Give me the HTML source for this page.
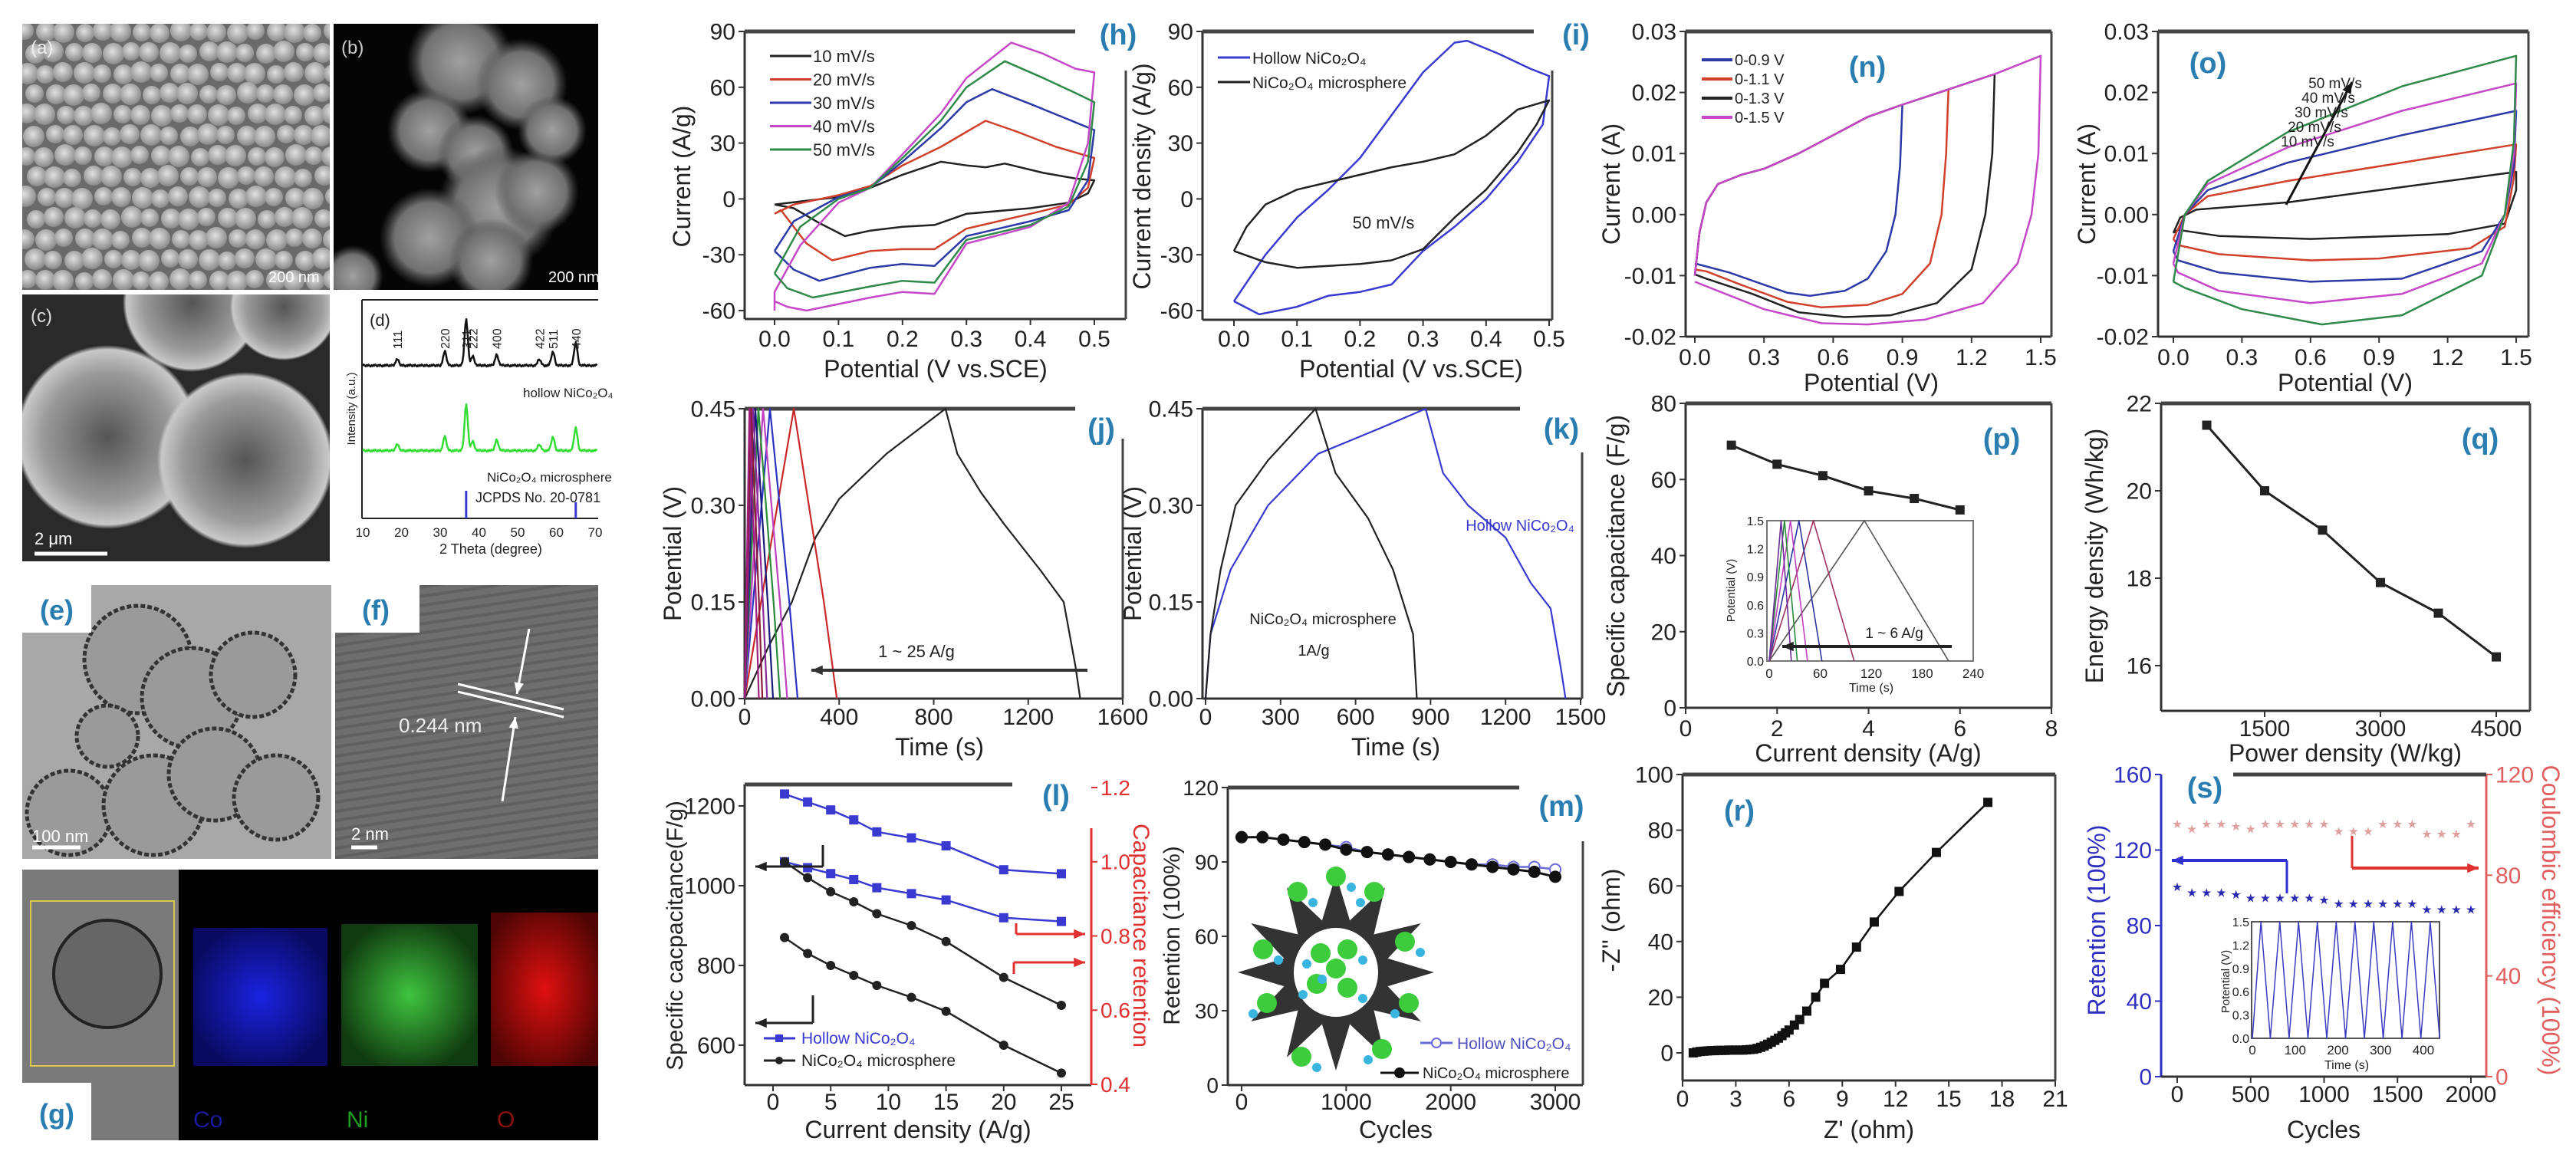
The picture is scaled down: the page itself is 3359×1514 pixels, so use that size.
<!DOCTYPE html>
<html><head><meta charset="utf-8"><title>NiCo2O4 figure</title>
<style>html,body{margin:0;padding:0;background:#fff}svg{display:block}</style></head>
<body>
<svg id="fig" xmlns="http://www.w3.org/2000/svg" width="3359" height="1514" viewBox="0 0 3359 1514">
<defs>
<radialGradient id="ball" cx="45%" cy="40%" r="60%"><stop offset="0" stop-color="#e0e0e0"/><stop offset="1" stop-color="#8a8a8a"/></radialGradient>
<radialGradient id="fuzz" cx="50%" cy="50%" r="50%"><stop offset="0" stop-color="#555"/><stop offset="0.7" stop-color="#9a9a9a"/><stop offset="0.95" stop-color="#c8c8c8"/><stop offset="1" stop-color="#c8c8c8" stop-opacity="0"/></radialGradient>
<radialGradient id="blob" cx="50%" cy="50%" r="50%"><stop offset="0" stop-color="#a0a0a0"/><stop offset="0.7" stop-color="#707070"/><stop offset="1" stop-color="#505050" stop-opacity="0"/></radialGradient>
<radialGradient id="coG" cx="50%" cy="50%" r="55%"><stop offset="0" stop-color="#1a22e0"/><stop offset="1" stop-color="#0a0a60"/></radialGradient>
<radialGradient id="niG" cx="50%" cy="50%" r="55%"><stop offset="0" stop-color="#3fc43f"/><stop offset="1" stop-color="#103a10"/></radialGradient>
<radialGradient id="oG" cx="50%" cy="50%" r="60%"><stop offset="0" stop-color="#e01010"/><stop offset="1" stop-color="#500505"/></radialGradient>
<clipPath id="clipA"><rect x="29" y="31" width="401" height="347"/></clipPath>
<clipPath id="clipB"><rect x="435" y="31" width="345" height="347"/></clipPath>
<clipPath id="clipC"><rect x="29" y="384" width="401" height="348"/></clipPath>
<clipPath id="clipE"><rect x="29" y="763" width="403" height="357"/></clipPath>
<clipPath id="clipF"><rect x="437" y="763" width="343" height="357"/></clipPath>
<clipPath id="clipG"><rect x="29" y="1134" width="751" height="353"/></clipPath>
</defs>
</svg>
<script>
// ---------------- data ----------------
const hCurve10=[[0,-3],[0.05,-1],[0.1,1],[0.15,6],[0.2,13],[0.26,20],[0.3,18],[0.33,17],[0.36,19],[0.42,14],[0.47,11],[0.5,10],[0.49,3],[0.46,-2],[0.4,-5],[0.3,-8],[0.25,-14],[0.2,-15],[0.15,-17],[0.11,-20],[0.07,-13],[0.03,-5],[0,-3]];
const hCurve20=[[0,-8],[0.03,-3],[0.1,2],[0.15,7],[0.2,18],[0.26,28],[0.3,36],[0.33,42],[0.38,36],[0.44,28],[0.5,22],[0.49,6],[0.46,-3],[0.4,-8],[0.3,-16],[0.25,-27],[0.2,-27],[0.15,-28],[0.09,-33],[0.05,-24],[0.01,-6],[0,-8]];
const hCurve30=[[0,-28],[0.03,-12],[0.1,1],[0.15,6],[0.2,20],[0.26,38],[0.3,52],[0.34,59],[0.4,51],[0.45,44],[0.5,37],[0.49,10],[0.46,-6],[0.4,-12],[0.3,-20],[0.25,-36],[0.2,-35],[0.15,-37],[0.07,-44],[0.03,-38],[0.0,-28]];
const hCurve40=[[0,-60],[0,-50],[0.04,-25],[0.1,-2],[0.15,6],[0.2,24],[0.26,46],[0.3,65],[0.37,84],[0.42,78],[0.47,70],[0.5,68],[0.49,30],[0.46,-2],[0.4,-15],[0.3,-24],[0.25,-51],[0.2,-50],[0.15,-53],[0.05,-60],[0.02,-58],[0,-55]];
const hCurve50=[[0,-40],[0.04,-15],[0.1,0],[0.15,6],[0.2,22],[0.26,42],[0.3,60],[0.36,74],[0.42,65],[0.47,57],[0.5,52],[0.49,20],[0.46,-4],[0.4,-14],[0.3,-22],[0.25,-45],[0.2,-44],[0.15,-47],[0.06,-53],[0.02,-48],[0,-40]];
const hRates=["10 mV/s","20 mV/s","30 mV/s","40 mV/s","50 mV/s"];
const iHollow=[[0,-55],[0.05,-30],[0.1,-10],[0.15,5],[0.2,22],[0.25,45],[0.3,68],[0.35,84],[0.37,85],[0.42,78],[0.47,70],[0.5,66],[0.49,40],[0.45,20],[0.4,0],[0.35,-15],[0.3,-28],[0.25,-46],[0.2,-50],[0.15,-52],[0.1,-58],[0.04,-62],[0,-55]];
const iMicro=[[0,-28],[0.02,-15],[0.05,-3],[0.1,5],[0.15,9],[0.2,13],[0.25,17],[0.3,20],[0.35,24],[0.4,34],[0.45,48],[0.5,53],[0.48,40],[0.45,25],[0.4,5],[0.35,-10],[0.3,-27],[0.25,-33],[0.2,-35],[0.15,-36],[0.1,-37],[0.05,-34],[0,-28]];
const jSlow=[[0,0],[100,0.08],[200,0.15],[300,0.25],[400,0.31],[600,0.38],[850,0.45],[900,0.38],[1000,0.32],[1100,0.27],[1250,0.2],[1350,0.15],[1400,0.05],[1420,0]];
const jPeakTimes=[208,107,78,58,45,35,27,20];
const jEndTimes=[390,224,180,150,120,95,75,60];
const kHollow=[[0,0],[20,0.1],[100,0.2],[250,0.3],[450,0.38],[700,0.42],[880,0.45],[950,0.35],[1050,0.3],[1200,0.25],[1300,0.18],[1380,0.14],[1420,0.05],[1440,0]];
const kMicro=[[0,0],[20,0.1],[60,0.2],[120,0.3],[250,0.37],[440,0.45],[520,0.35],[650,0.28],[750,0.2],[830,0.1],[845,0]];
const lCurrent=[1,3,5,7,9,12,15,20,25];
const lHollowCap=[1230,1210,1190,1165,1135,1120,1100,1040,1030];
const lHollowRet=[1.0,0.984,0.968,0.952,0.93,0.914,0.897,0.849,0.839];
const lMicroCap=[870,830,800,775,750,720,685,600,530];
const lMicroRet=[1.0,0.957,0.919,0.892,0.86,0.828,0.785,0.688,0.613];
const mCycles=[0,200,400,600,800,1000,1200,1400,1600,1800,2000,2200,2400,2600,2800,3000];
const mHollow=[100,100,99,98,97,96,94,93,92,91,90,89,89,88,88,87];
const mMicro=[100,100,99,98,97,95,94,93,92,91,90,89,88,87,86,84];
const nUpper=[[0,-0.01],[0.02,-0.003],[0.05,0.002],[0.1,0.005],[0.2,0.0065],[0.3,0.0075],[0.45,0.01],[0.6,0.013],[0.75,0.016],[0.9,0.018],[1.1,0.0205],[1.3,0.023],[1.5,0.026]];
const nLimits=[0.9,1.1,1.3,1.5];
const nReturn09=[[0.89,0.008],[0.87,0.0],[0.83,-0.006],[0.75,-0.0105],[0.65,-0.0125],[0.5,-0.0133],[0.4,-0.0128],[0.3,-0.0115],[0.15,-0.0095],[0.05,-0.0085],[0,-0.008]];
const nReturn11=[[1.09,0.01],[1.07,0.0],[1.02,-0.008],[0.9,-0.013],[0.75,-0.0148],[0.55,-0.0152],[0.4,-0.0143],[0.2,-0.0115],[0.05,-0.0093],[0,-0.009]];
const nReturn13=[[1.29,0.01],[1.26,0.0],[1.2,-0.009],[1.05,-0.0145],[0.85,-0.0165],[0.65,-0.0168],[0.45,-0.016],[0.25,-0.013],[0.05,-0.0105],[0,-0.0098]];
const nReturn15=[[1.49,0.01],[1.46,0.0],[1.4,-0.008],[1.25,-0.0145],[1.0,-0.0172],[0.75,-0.018],[0.55,-0.0178],[0.3,-0.0155],[0.1,-0.0125],[0,-0.011]];
const nLabels=["0-0.9 V","0-1.1 V","0-1.3 V","0-1.5 V"];
const o10=[[0,-0.003],[0.03,-0.0005],[0.1,0.0008],[0.5,0.002],[1.0,0.0045],[1.5,0.007],[1.5,0.004],[1.45,-0.0015],[1.2,-0.0032],[0.6,-0.004],[0.2,-0.0035],[0.02,-0.0025],[0,-0.003]];
const o20=[[0,-0.004],[0.05,0],[0.15,0.003],[0.5,0.0055],[1.0,0.0085],[1.5,0.0115],[1.49,0.006],[1.45,-0.002],[1.3,-0.0055],[0.9,-0.0072],[0.6,-0.0075],[0.2,-0.0065],[0.02,-0.005],[0,-0.004]];
const o30=[[0,-0.006],[0.05,0],[0.15,0.004],[0.5,0.0085],[1.0,0.013],[1.5,0.017],[1.49,0.008],[1.45,0.0],[1.35,-0.006],[1.0,-0.0105],[0.6,-0.011],[0.2,-0.0095],[0.02,-0.0075],[0,-0.006]];
const o40=[[0,-0.008],[0.05,0],[0.15,0.005],[0.5,0.011],[1.0,0.017],[1.5,0.0215],[1.49,0.01],[1.45,0.0],[1.35,-0.008],[1.0,-0.013],[0.6,-0.0145],[0.2,-0.0125],[0.02,-0.0095],[0,-0.008]];
const o50=[[0,-0.011],[0.05,0.0],[0.15,0.0055],[0.5,0.0135],[1.0,0.021],[1.5,0.026],[1.49,0.012],[1.45,0.0],[1.35,-0.01],[1.0,-0.0165],[0.65,-0.018],[0.3,-0.0155],[0.05,-0.012],[0,-0.011]];
const oLabels=["50 mV/s","40 mV/s","30 mV/s","20 mV/s","10 mV/s"];
const pCurrent=[1,2,3,4,5,6];
const pCap=[69,64,61,57,55,52];
const pInsetPeak=[112,52,35,25,18,14];
const pInsetEnd=[211,100,62,45,33,26];
const qPower=[750,1500,2250,3000,3750,4500];
const qEnergy=[21.5,20,19.1,17.9,17.2,16.2];
const rZre=[0.6,0.8,1.0,1.2,1.4,1.6,1.8,2.0,2.2,2.4,2.6,2.8,3.0,3.2,3.4,3.6,3.8,4.0,4.2,4.4,4.6,4.8,5.0,5.2,5.4,5.6,5.8,6.0,6.3,6.6,7.0,7.5,8.0,8.9,9.8,10.8,12.2,14.3,17.2];
const rZim=[0,0.3,0.5,0.6,0.7,0.8,0.8,0.9,0.9,0.9,1.0,1.0,1.0,1.0,1.0,1.1,1.2,1.3,1.6,2.0,2.5,3.1,3.8,4.5,5.3,6.2,7.2,8.2,10,12,15,20,25,30,38,47,58,72,90];
const sCycles=[0,100,200,300,400,500,600,700,800,900,1000,1100,1200,1300,1400,1500,1600,1700,1800,1900,2000];
const sRetention=[100,97,97,97,96,94,94,94,94,94,93,91,91,91,91,91,91,88,88,88,88];
const sCoulombic=[100,98,100,100,99,98,100,100,100,100,100,97,97,97,100,100,100,96,96,96,100];
const sInsetPeaks=[20,64,108,152,196,240,284,328,372,416];
const sInsetTroughs=[0,42,86,130,174,218,262,306,350,394,438];

// ---------------- helpers ----------------
const NS='http://www.w3.org/2000/svg';
const svg=document.getElementById('fig');
const FONT='Liberation Sans, Arial, sans-serif';
const TEAL='#2a7db0';
function mk(tag,attrs,parent){const e=document.createElementNS(NS,tag);for(const k in attrs)e.setAttribute(k,attrs[k]);(parent||svg).appendChild(e);return e;}
function lin(v0,p0,v1,p1){return v=>p0+(v-v0)*(p1-p0)/(v1-v0);}
function group(name,clip){const g=mk('g',clip?{'clip-path':'url(#'+clip+')'}:{});return g;}
function txt(g,x,y,s,size,opts,name){const e=mk('text',Object.assign({x:x,y:y,'font-size':size,'font-family':FONT,fill:'#222'},opts||{}),g);e.textContent=s;return e;}
function path(g,pts,X,Y,color,w,name){const d=pts.map((p,i)=>(i?'L':'M')+X(p[0]).toFixed(1)+' '+Y(p[1]).toFixed(1)).join('');const e=mk('path',{d:d,fill:'none',stroke:color,'stroke-width':w||2.5,'stroke-linejoin':'round'},g);return e;}
function ln(g,x1,y1,x2,y2,color,w,name){const e=mk('line',{x1:x1,y1:y1,x2:x2,y2:y2,stroke:color,'stroke-width':w},g);return e;}
function marker(g,x,y,shape,color,size,name){let e;if(shape==='sq'){e=mk('rect',{x:x-size,y:y-size,width:2*size,height:2*size,fill:color},g);}else if(shape==='open'){e=mk('circle',{cx:x,cy:y,r:size,fill:'#fff',stroke:color,'stroke-width':2},g);}else if(shape==='star'){e=mk('text',{x:x,y:y+size*0.7,'font-size':size*2.6,'text-anchor':'middle',fill:color,'font-family':'DejaVu Sans, sans-serif'},g);e.textContent='★';}else{e=mk('circle',{cx:x,cy:y,r:size,fill:color},g);}return e;}
function frame(g,L,R,T,B,topEnd,rightStart,color){ln(g,L,T,L,B,color||'#333',3,'y-axis-line');ln(g,L,B,R,B,'#333',3,'x-axis-line');ln(g,L,T,topEnd,T,'#444',5,'top-frame-line');ln(g,R,rightStart,R,B,'#444',3,'right-frame-line');}
function xTicks(g,vals,X,B,labelY,size,fmt){vals.forEach(v=>{const x=X(v);ln(g,x,B,x,B+8,'#333',2,'x-tick');txt(g,x,labelY,fmt?fmt(v):String(v),size,{'text-anchor':'middle'},'x-tick-label');});}
function yTicks(g,vals,Y,L,size,fmt,color,side){vals.forEach(v=>{const y=Y(v);const dir=side==='right'?1:-1;ln(g,L,y,L+dir*8,y,color||'#333',2,'y-tick');txt(g,L+dir*12,y+size*0.35,fmt?fmt(v):String(v),size,{'text-anchor':side==='right'?'start':'end',fill:color||'#222'},'y-tick-label');});}
function yTitle(g,x,y,s,size,color){return txt(g,x,y,s,size,{'text-anchor':'middle',transform:'rotate(-90 '+x+' '+y+')',fill:color||'#222'},'y-axis-title');}
function yTitleR(g,x,y,s,size,color){return txt(g,x,y,s,size,{'text-anchor':'middle',transform:'rotate(90 '+x+' '+y+')',fill:color||'#222'},'y2-axis-title');}
function letter(g,x,y,s){return txt(g,x,y,s,38,{'text-anchor':'middle','font-weight':'bold',fill:TEAL},'panel-label');}
function arrow(g,x1,y1,x2,y2,color,w,name){ln(g,x1,y1,x2,y2,color,w,name);const a=Math.atan2(y2-y1,x2-x1),s=16;const p=[[x2,y2],[x2-s*Math.cos(a-0.4),y2-s*Math.sin(a-0.4)],[x2-s*Math.cos(a+0.4),y2-s*Math.sin(a+0.4)]];const e=mk('polygon',{points:p.map(q=>q.join(',')).join(' '),fill:color},g);}
const f1=v=>v.toFixed(1),f2=v=>v.toFixed(2);
const sub='NiCo\u2082O\u2084';

// ---------------- left image panels ----------------
(function(){
 let g=group('sem-image-a','clipA');
 mk('rect',{x:29,y:31,width:401,height:347,fill:'#6a6a6a'},g);
 for(let r=0;r<13;r++)for(let c=0;c<17;c++){const x=34+c*25+(r%2)*12+((r*7+c*3)%5)-2,y=40+r*27+((r*3+c*5)%4);mk('circle',{cx:x,cy:y,r:12+((r+c)%3),fill:'url(#ball)'},g);}
 txt(g,40,70,'(a)',24,{fill:'#eee'},'panel-label-a');
 txt(g,350,368,'200 nm',20,{fill:'#fff'},'scale-bar-label');
 g=group('sem-image-b','clipB');
 mk('rect',{x:435,y:31,width:345,height:347,fill:'#050505'},g);
 [[600,80,70],[680,110,60],[560,170,55],[620,200,50],[650,270,80],[700,250,55],[560,310,65],[640,340,55],[460,360,40],[720,170,45]].forEach(b=>mk('circle',{cx:b[0],cy:b[1],r:b[2],fill:'url(#blob)'},g));
 txt(g,445,70,'(b)',24,{fill:'#ccc'},'panel-label-b');
 txt(g,715,368,'200 nm',20,{fill:'#fff'},'scale-bar-label');
 g=group('sem-image-c','clipC');
 mk('rect',{x:29,y:384,width:401,height:348,fill:'#2a2a2a'},g);
 [[250,395,90],[370,400,70],[140,570,120],[320,600,115]].forEach(b=>mk('circle',{cx:b[0],cy:b[1],r:b[2],fill:'url(#fuzz)'},g));
 txt(g,40,420,'(c)',24,{fill:'#ddd'},'panel-label-c');
 ln(g,45,722,140,722,'#fff',5,'scale-bar');
 txt(g,45,710,'2 μm',22,{fill:'#fff'},'scale-bar-label');
 g=group('xrd-panel-d');
 ln(g,472,391,472,676,'#222',2,'y-axis-line');ln(g,472,676,780,676,'#222',2,'x-axis-line');ln(g,472,391,780,391,'#222',2,'top-line');
 const XX=lin(10,473,70,776);
 const pk=[[18.9,8],[31.2,18],[36.7,60],[38.4,12],[44.6,14],[55.6,8],[59.1,18],[65,30]];
 function xrd(base,scale,color,name){const pts=[];for(let t=10;t<=70.5;t+=0.25){let y=0;pk.forEach(p=>{y+=p[1]*Math.exp(-Math.pow((t-p[0])/0.6,2));});pts.push([t,base-y*scale-((t*7)%3)]);}path(g,pts,XX,v=>v,color,2.5,name);}
 xrd(478,1,'#111','xrd-hollow-pattern');xrd(589,1,'#33dd33','xrd-microsphere-pattern');
 txt(g,482,425,'(d)',22,{},'panel-label-d');
 [['111',18.9],['220',31.2],['311',36.7],['222',38.4],['400',44.6],['422',55.6],['511',59.1],['440',65]].forEach(p=>txt(g,XX(p[1])+6,455,p[0],16,{transform:'rotate(-90 '+(XX(p[1])+6)+' 455)'},'peak-index'));
 txt(g,682,518,'hollow  '+sub,17,{},'xrd-label-hollow');
 txt(g,635,628,sub+' microsphere',17,{},'xrd-label-micro');
 txt(g,620,655,'JCPDS No. 20-0781',18,{},'jcpds-label');
 ln(g,XX(36.7),640,XX(36.7),676,'#3a3acc',3,'jcpds-line');ln(g,XX(65),655,XX(65),676,'#3a3acc',3,'jcpds-line');
 [10,20,30,40,50,60,70].forEach(v=>txt(g,XX(v),700,String(v),17,{'text-anchor':'middle'},'x-tick-label'));
 txt(g,640,722,'2 Theta (degree)',18,{'text-anchor':'middle'},'x-axis-title');
 yTitle(g,463,533,'Intensity (a.u.)',15);
 g=group('tem-image-e','clipE');
 mk('rect',{x:29,y:763,width:403,height:357,fill:'#a8a8a8'},g);
 [[180,860,70],[250,910,65],[330,880,55],[90,1060,55],[200,1050,65],[280,1010,60],[360,1040,55],[140,960,40]].forEach(b=>mk('circle',{cx:b[0],cy:b[1],r:b[2],fill:'#9a9a9a',stroke:'#333','stroke-width':5,'stroke-dasharray':'6 3'},g));
 mk('rect',{x:29,y:763,width:90,height:62,fill:'#fff'},g);
 txt(g,74,808,'(e)',36,{'text-anchor':'middle','font-weight':'bold',fill:TEAL},'panel-label-e');
 ln(g,42,1105,105,1105,'#fff',5,'scale-bar');txt(g,42,1098,'100 nm',22,{fill:'#fff'},'scale-bar-label');
 g=group('hrtem-image-f','clipF');
 mk('rect',{x:437,y:763,width:343,height:357,fill:'#6e6e6e'},g);
 for(let i=0;i<34;i++)ln(g,437,770+i*12,780,720+i*12,'#606060',4,'lattice-fringe');
 mk('rect',{x:437,y:763,width:110,height:62,fill:'#fff'},g);
 txt(g,490,808,'(f)',36,{'text-anchor':'middle','font-weight':'bold',fill:TEAL},'panel-label-f');
 ln(g,597,892,735,925,'#fff',3,'fringe-marker');ln(g,597,902,735,935,'#fff',3,'fringe-marker');
 arrow(g,690,820,674,905,'#fff',3,'arrow-down');arrow(g,655,1045,672,935,'#fff',3,'arrow-up');
 txt(g,520,955,'0.244 nm',26,{fill:'#eee'},'d-spacing-label');
 ln(g,458,1105,492,1105,'#fff',5,'scale-bar');txt(g,458,1095,'2 nm',22,{fill:'#fff'},'scale-bar-label');
 g=group('eds-mapping-g','clipG');
 mk('rect',{x:29,y:1134,width:204,height:353,fill:'#7a7a7a'},g);
 mk('circle',{cx:140,cy:1270,r:70,fill:'#666',stroke:'#222','stroke-width':4},g);
 mk('rect',{x:40,y:1175,width:187,height:215,fill:'none',stroke:'#d8c84a','stroke-width':2},g);
 mk('rect',{x:233,y:1134,width:547,height:353,fill:'#000'},g);
 mk('rect',{x:252,y:1210,width:175,height:180,fill:'url(#coG)'},g);
 mk('rect',{x:445,y:1205,width:178,height:185,fill:'url(#niG)'},g);
 mk('rect',{x:640,y:1190,width:140,height:200,fill:'url(#oG)'},g);
 mk('rect',{x:29,y:1412,width:90,height:75,fill:'#fff'},g);
 txt(g,74,1465,'(g)',36,{'text-anchor':'middle','font-weight':'bold',fill:TEAL},'panel-label-g');
 txt(g,252,1470,'Co',30,{fill:'#1a1aa0'},'map-label-co');
 txt(g,452,1470,'Ni',30,{fill:'#20a020'},'map-label-ni');
 txt(g,648,1470,'O',30,{fill:'#8a1010'},'map-label-o');
})();

// ---------------- panel h ----------------
(function(){
 const g=group('chart-h-cv-scan-rates');
 const X=lin(0,1010,0.5,1427),Y=lin(90,41,-60,405);
 frame(g,971,1468,41,416,1402,92);
 xTicks(g,[0,0.1,0.2,0.3,0.4,0.5],X,416,452,30,f1);
 yTicks(g,[90,60,30,0,-30,-60],Y,971,30);
 txt(g,1220,492,'Potential (V vs.SCE)',32,{'text-anchor':'middle'},'x-axis-title');
 yTitle(g,900,230,'Current (A/g)',32);
 const curves=[hCurve10,hCurve20,hCurve30,hCurve40,hCurve50],cols=['#222','#d0402a','#2c3aa8','#c648c8','#2f8a4a'];
 curves.forEach((c,i)=>path(g,c,X,Y,cols[i],2.5,'cv-curve-'+hRates[i].replace(/ /g,'').replace('/','-')));
 hRates.forEach((r,i)=>{const y=73+i*30.5;ln(g,1004,y,1058,y,cols[i],3,'legend-line');txt(g,1060,y+8,r,22,{},'legend-entry');});
 letter(g,1458,58,'(h)');
})();
// ---------------- panel i ----------------
(function(){
 const g=group('chart-i-cv-compare');
 const X=lin(0,1609,0.5,2020),Y=lin(90,41,-60,405);
 frame(g,1568,2024,41,417,2000,92);
 xTicks(g,[0,0.1,0.2,0.3,0.4,0.5],X,417,452,30,f1);
 yTicks(g,[90,60,30,0,-30,-60],Y,1568,30);
 txt(g,1840,492,'Potential (V vs.SCE)',32,{'text-anchor':'middle'},'x-axis-title');
 yTitle(g,1500,230,'Current density (A/g)',32);
 path(g,iHollow,X,Y,'#3a3ad0',2.5,'cv-hollow');path(g,iMicro,X,Y,'#222',2.5,'cv-microsphere');
 ln(g,1588,75,1630,75,'#3a3ad0',3,'legend-line');txt(g,1633,83,'Hollow '+sub,21,{},'legend-entry');
 ln(g,1588,107,1630,107,'#222',3,'legend-line');txt(g,1633,115,sub+' microsphere',21,{},'legend-entry');
 txt(g,1804,298,'50 mV/s',22,{'text-anchor':'middle'},'scan-rate-annotation');
 letter(g,2055,58,'(i)');
})();
// ---------------- panel j ----------------
(function(){
 const g=group('chart-j-gcd-rates');
 const X=lin(0,971,1600,1464),Y=lin(0.45,533,0,911);
 frame(g,971,1464,533,911,1402,572);
 xTicks(g,[0,400,800,1200,1600],X,911,945,30);
 yTicks(g,[0.45,0.3,0.15,0],Y,971,30,f2);
 txt(g,1225,985,'Time (s)',32,{'text-anchor':'middle'},'x-axis-title');
 yTitle(g,888,722,'Potential (V)',32);
 path(g,jSlow,X,Y,'#222',2.2,'gcd-1Ag');
 const cols=['#c8282a','#2a34c0','#c040c0','#2a8a3a','#1a1a7a','#8a2a9a','#8a1a3a','#a02080'];
 jPeakTimes.forEach((p,i)=>path(g,[[0,0],[p,0.45],[p+(jEndTimes[i]-p)*0.7,0.15],[jEndTimes[i],0]],X,Y,cols[i],2.2,'gcd-curve'));
 arrow(g,1418,874,1058,874,'#333',4,'rate-arrow');
 txt(g,1195,857,'1 ~ 25 A/g',22,{'text-anchor':'middle'},'rate-annotation');
 letter(g,1436,572,'(j)');
})();
// ---------------- panel k ----------------
(function(){
 const g=group('chart-k-gcd-compare');
 const X=lin(0,1572,1500,2061),Y=lin(0.45,533,0,911);
 frame(g,1568,2063,533,911,1982,590);
 xTicks(g,[0,300,600,900,1200,1500],X,911,945,30);
 yTicks(g,[0.45,0.3,0.15,0],Y,1568,30,f2);
 txt(g,1820,985,'Time (s)',32,{'text-anchor':'middle'},'x-axis-title');
 yTitle(g,1488,722,'Potential (V)',32);
 path(g,kHollow,X,Y,'#3a3ad0',2.2,'gcd-hollow');path(g,kMicro,X,Y,'#222',2.2,'gcd-microsphere');
 txt(g,1982,692,'Hollow '+sub,20,{'text-anchor':'middle',fill:'#3a3ad0'},'series-label-hollow');
 txt(g,1725,814,sub+' microsphere',20,{'text-anchor':'middle'},'series-label-micro');
 txt(g,1713,855,'1A/g',20,{'text-anchor':'middle'},'current-annotation');
 letter(g,2036,572,'(k)');
})();
// ---------------- panel l ----------------
(function(){
 const g=group('chart-l-rate-capability');
 const X=lin(0,1008,25,1384),Y=lin(1200,1051,600,1363),YR=lin(1.2,1027,0.4,1414);
 frame(g,971,1423,1023,1415,1320,1080,'#333');
 ln(g,1423,1080,1423,1415,'#e03030',3,'right-axis-line');
 xTicks(g,[0,5,10,15,20,25],X,1415,1447,30);
 yTicks(g,[1200,1000,800,600],Y,971,30);
 yTicks(g,[1.2,1.0,0.8,0.6,0.4],YR,1423,28,f1,'#e03030','right');
 txt(g,1197,1484,'Current density (A/g)',32,{'text-anchor':'middle'},'x-axis-title');
 yTitle(g,890,1220,'Specific cacpacitance(F/g)',30);
 yTitleR(g,1478,1220,'Capacitance retention',30,'#e03030');
 const Ycap=v=>Y(v),Yret=v=>YR(v);
 [[lHollowCap,Ycap,'#3a3ad0','sq','hollow-capacitance'],[lHollowRet,Yret,'#3a3ad0','sq','hollow-retention'],[lMicroCap,Ycap,'#222','c','micro-capacitance'],[lMicroRet,Yret,'#222','c','micro-retention']].forEach(s=>{
  const pts=lCurrent.map((x,i)=>[x,s[0][i]]);path(g,pts,X,s[1],s[2],2.5,s[4]+'-line');
  pts.forEach(p=>marker(g,X(p[0]),s[1](p[1]),s[3],s[2],6,s[4]+'-point'));});
 ln(g,1073,1102,1073,1130,'#222',3,'arrow-stem');arrow(g,1073,1130,985,1130,'#222',3,'arrow-to-left-axis');
 ln(g,1060,1298,1060,1334,'#222',3,'arrow-stem');arrow(g,1060,1334,985,1334,'#222',3,'arrow-to-left-axis');
 ln(g,1325,1204,1325,1218,'#e03030',3,'arrow-stem');arrow(g,1325,1218,1415,1218,'#e03030',3,'arrow-to-right-axis');
 ln(g,1322,1270,1322,1255,'#e03030',3,'arrow-stem');arrow(g,1322,1255,1415,1255,'#e03030',3,'arrow-to-right-axis');
 ln(g,996,1354,1037,1354,'#3a3ad0',3,'legend-line');marker(g,1016,1354,'sq','#3a3ad0',5,'legend-marker');txt(g,1045,1361,'Hollow '+sub,21,{fill:'#3a3ad0'},'legend-entry');
 ln(g,996,1383,1037,1383,'#222',3,'legend-line');marker(g,1016,1383,'c','#222',5,'legend-marker');txt(g,1045,1390,sub+' microsphere',21,{},'legend-entry');
 letter(g,1377,1050,'(l)');
})();
// ---------------- panel m ----------------
(function(){
 const g=group('chart-m-cycling');
 const X=lin(0,1619,3000,2028),Y=lin(120,1027,0,1415);
 frame(g,1601,2064,1027,1415,1981,1097);
 xTicks(g,[0,1000,2000,3000],X,1415,1447,30);
 yTicks(g,[120,90,60,30,0],Y,1601,28);
 txt(g,1820,1484,'Cycles',32,{'text-anchor':'middle'},'x-axis-title');
 yTitle(g,1538,1220,'Retention (100%)',30);
 const ph=mCycles.map((x,i)=>[x,mHollow[i]]),pm=mCycles.map((x,i)=>[x,mMicro[i]]);
 path(g,ph,X,Y,'#6a6ad8',2.5,'hollow-retention-line');ph.forEach(p=>marker(g,X(p[0]),Y(p[1]),'open','#6a6ad8',7,'hollow-point'));
 path(g,pm,X,Y,'#111',3,'micro-retention-line');pm.forEach(p=>marker(g,X(p[0]),Y(p[1]),'c','#111',8,'micro-point'));
 const sg=group('ion-diffusion-schematic');
 const cx=1742,cy=1268,pts=[];for(let k=0;k<24;k++){const r=k%2?70:128,a=k*Math.PI/12-Math.PI/2;pts.push((cx+r*Math.cos(a)).toFixed(1)+','+(cy+r*Math.sin(a)).toFixed(1));}
 mk('polygon',{points:pts.join(' '),fill:'#333'},sg);
 mk('ellipse',{cx:cx,cy:cy,rx:55,ry:58,fill:'#fff'},sg);
 [[-20,-25],[15,-30],[-25,15],[15,20],[0,-5],[-95,-30],[-90,40],[90,-40],[95,40],[-50,-105],[50,-105],[-45,110],[60,100],[0,-125]].forEach((o,k)=>{mk('circle',{cx:cx+o[0],cy:cy+o[1],r:13,fill:'#3ccc3c'},sg);mk('circle',{cx:cx+o[0]+(k%2?20:-18),cy:cy+o[1]+14,r:6,fill:'#39b5e0'},sg);});
 ln(g,1852,1360,1894,1360,'#6a6ad8',3,'legend-line');marker(g,1873,1360,'open','#6a6ad8',6,'legend-marker');txt(g,1900,1368,'Hollow '+sub,21,{fill:'#5050c0'},'legend-entry');
 ln(g,1800,1399,1850,1399,'#111',3,'legend-line');marker(g,1825,1399,'c','#111',7,'legend-marker');txt(g,1855,1406,sub+' microsphere',20,{},'legend-entry');
 letter(g,2036,1064,'(m)');
})();
// ---------------- panel n ----------------
(function(){
 const g=group('chart-n-cv-windows');
 const X=lin(0,2210,1.5,2661),Y=lin(0.03,41,-0.02,439);
 frame(g,2198,2675,41,439,2675,41);
 xTicks(g,[0,0.3,0.6,0.9,1.2,1.5],X,439,476,30,f1);
 yTicks(g,[0.03,0.02,0.01,0,-0.01,-0.02],Y,2198,30,f2);
 txt(g,2440,510,'Potential (V)',32,{'text-anchor':'middle'},'x-axis-title');
 yTitle(g,2112,240,'Current (A)',32);
 const rets=[nReturn09,nReturn11,nReturn13,nReturn15],cols=['#2c3aa8','#d0402a','#222','#c648c8'];
 nLimits.forEach((lim,i)=>{const up=nUpper.filter(p=>p[0]<=lim+1e-9);path(g,up.concat(rets[i]),X,Y,cols[i],2.5,'cv-window-'+nLabels[i]);});
 nLabels.forEach((s,i)=>{const y=78+i*25;ln(g,2219,y,2259,y,cols[i],4,'legend-line');txt(g,2262,y+7,s,20,{},'legend-entry');});
 letter(g,2435,100,'(n)');
})();
// ---------------- panel o ----------------
(function(){
 const g=group('chart-o-cv-scan-rates');
 const X=lin(0,2834,1.5,3281),Y=lin(0.03,41,-0.02,439);
 frame(g,2814,3297,41,439,3297,41);
 xTicks(g,[0,0.3,0.6,0.9,1.2,1.5],X,439,476,30,f1);
 yTicks(g,[0.03,0.02,0.01,0,-0.01,-0.02],Y,2814,30,f2);
 txt(g,3058,510,'Potential (V)',32,{'text-anchor':'middle'},'x-axis-title');
 yTitle(g,2732,240,'Current (A)',32);
 const cs=[o10,o20,o30,o40,o50],cols=['#222','#d0402a','#2c3aa8','#c648c8','#2f8a4a'];
 cs.forEach((c,i)=>path(g,c,X,Y,cols[i],2.5,'cv-rate-'+oLabels[4-i]));
 arrow(g,2981,267,3067,107,'#111',3,'scan-rate-arrow');
 oLabels.forEach((s,i)=>txt(g,3045-i*9,115+i*19,s,19,{'text-anchor':'middle'},'scan-rate-label'));
 letter(g,2879,95,'(o)');
})();
// ---------------- panel p ----------------
(function(){
 const g=group('chart-p-specific-capacitance');
 const X=lin(0,2198,8,2675),Y=lin(80,526,0,923);
 frame(g,2198,2675,526,923,2675,526);
 xTicks(g,[0,2,4,6,8],X,923,960,30);
 yTicks(g,[80,60,40,20,0],Y,2198,30);
 txt(g,2436,993,'Current density (A/g)',32,{'text-anchor':'middle'},'x-axis-title');
 yTitle(g,2118,725,'Specific capacitance (F/g)',32);
 const pts=pCurrent.map((x,i)=>[x,pCap[i]]);path(g,pts,X,Y,'#222',3,'capacitance-line');pts.forEach(p=>marker(g,X(p[0]),Y(p[1]),'sq','#222',6,'capacitance-point'));
 const ig=group('gcd-inset');
 const IX=lin(0,2307,240,2573),IY=lin(1.5,679,0,862);
 mk('rect',{x:2304,y:679,width:269,height:183,fill:'#fff',stroke:'#777','stroke-width':2},ig);
 const cols=['#555','#a03060','#2a34a0','#c040c0','#2a8a3a','#6a2a9a'];
 pInsetPeak.forEach((pk,i)=>path(ig,[[0,0],[pk,1.5],[pInsetEnd[i],0]],IX,IY,cols[i],1.6,'inset-gcd-curve'));
 [0,60,120,180,240].forEach(v=>txt(ig,IX(v),884,String(v),17,{'text-anchor':'middle'},'inset-x-tick'));
 [0,0.3,0.6,0.9,1.2,1.5].forEach(v=>txt(ig,2300,IY(v)+6,v.toFixed(1),16,{'text-anchor':'end'},'inset-y-tick'));
 txt(ig,2440,902,'Time (s)',16,{'text-anchor':'middle'},'inset-x-title');
 yTitle(ig,2262,770,'Potential (V)',15);
 arrow(ig,2545,843,2324,843,'#222',4,'inset-rate-arrow');
 txt(ig,2470,832,'1 ~ 6 A/g',19,{'text-anchor':'middle'},'inset-rate-label');
 letter(g,2610,585,'(p)');
})();
// ---------------- panel q ----------------
(function(){
 const g=group('chart-q-ragone');
 const X=lin(1500,2953,4500,3255),Y=lin(22,526,16,868);
 frame(g,2818,3299,526,927,3299,526);
 xTicks(g,[1500,3000,4500],X,927,960,30);
 yTicks(g,[22,20,18,16],Y,2818,30);
 txt(g,3058,993,'Power density (W/kg)',32,{'text-anchor':'middle'},'x-axis-title');
 yTitle(g,2742,725,'Energy density (Wh/kg)',32);
 const pts=qPower.map((x,i)=>[x,qEnergy[i]]);path(g,pts,X,Y,'#222',3,'ragone-line');pts.forEach(p=>marker(g,X(p[0]),Y(p[1]),'sq','#222',6,'ragone-point'));
 letter(g,3234,585,'(q)');
})();
// ---------------- panel r ----------------
(function(){
 const g=group('chart-r-nyquist');
 const X=lin(0,2194,21,2680),Y=lin(100,1010,0,1373);
 frame(g,2194,2680,1010,1409,2680,1010);
 xTicks(g,[0,3,6,9,12,15,18,21],X,1409,1443,30);
 yTicks(g,[100,80,60,40,20,0],Y,2194,30);
 txt(g,2437,1484,"Z' (ohm)",32,{'text-anchor':'middle'},'x-axis-title');
 yTitle(g,2112,1200,"-Z'' (ohm)",32);
 const pts=rZre.map((x,i)=>[x,rZim[i]]);path(g,pts,X,Y,'#111',2.5,'nyquist-line');pts.forEach(p=>marker(g,X(p[0]),Y(p[1]),'sq','#111',6,'nyquist-point'));
 letter(g,2268,1070,'(r)');
})();
// ---------------- panel s ----------------
(function(){
 const g=group('chart-s-long-cycling');
 const X=lin(0,2839,2000,3222),Y=lin(160,1010,0,1404),YR=lin(120,1010,0,1404);
 ln(g,2818,1010,2818,1404,'#3030c0',3,'left-axis-line');ln(g,2818,1404,3242,1404,'#333',3,'x-axis-line');
 ln(g,3242,1010,3242,1404,'#e06060',3,'right-axis-line');ln(g,2912,1010,3242,1010,'#444',5,'top-frame-line');
 xTicks(g,[0,500,1000,1500,2000],X,1404,1437,30);
 yTicks(g,[160,120,80,40,0],Y,2818,30,null,'#3030c0');
 yTicks(g,[120,80,40,0],YR,3242,30,null,'#e06060','right');
 txt(g,3030,1484,'Cycles',32,{'text-anchor':'middle'},'x-axis-title');
 yTitle(g,2745,1200,'Retention (100%)',32,'#3030c0');
 yTitleR(g,3315,1200,'Coulombic efficiency (100%)',32,'#e06060');
 sCycles.forEach((c,i)=>marker(g,X(c),Y(sRetention[i]),'star','#2a2ab0',6,'retention-point'));
 sCycles.forEach((c,i)=>marker(g,X(c),YR(sCoulombic[i]),'star','#e0a0a0',6,'coulombic-point'));
 ln(g,2982,1122,2982,1165,'#3030d0',3,'arrow-stem');arrow(g,2982,1122,2832,1122,'#3030d0',4,'arrow-to-retention-axis');
 ln(g,3067,1090,3067,1132,'#e03030',3,'arrow-stem');arrow(g,3067,1132,3232,1132,'#e03030',4,'arrow-to-efficiency-axis');
 const ig=group('cycling-inset');
 const IX=lin(0,2937,400,3160),IY=lin(1.5,1202,0,1354);
 mk('rect',{x:2936,y:1202,width:245,height:152,fill:'#fff',stroke:'#555','stroke-width':2},ig);
 const tri=[];sInsetTroughs.forEach((t,i)=>{tri.push([t,0]);if(i<sInsetPeaks.length)tri.push([sInsetPeaks[i],1.5]);});
 path(ig,tri,IX,IY,'#3a3ac0',1.5,'inset-triangle-wave');
 [0,100,200,300,400].forEach(v=>txt(ig,IX(v),1375,String(v),17,{'text-anchor':'middle'},'inset-x-tick'));
 [0,0.3,0.6,0.9,1.2,1.5].forEach(v=>txt(ig,2933,IY(v)+6,v.toFixed(1),16,{'text-anchor':'end'},'inset-y-tick'));
 txt(ig,3060,1394,'Time (s)',16,{'text-anchor':'middle'},'inset-x-title');
 yTitle(ig,2907,1280,'Potential (V)',15);
 letter(g,2875,1040,'(s)');
})();
</script>
</body></html>
